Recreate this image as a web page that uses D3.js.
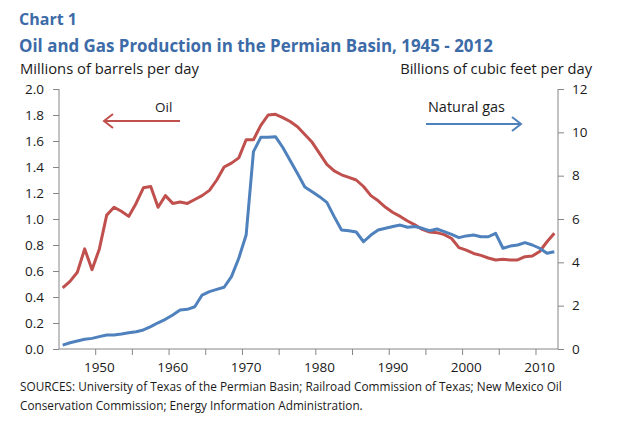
<!DOCTYPE html>
<html>
<head>
<meta charset="utf-8">
<script src="https://cdn.jsdelivr.net/npm/d3@7"></script>
<style>
  body { margin: 0; background: #fff; }
  svg { display: block; }
  text { font-family: "Open Sans", "Noto Sans", sans-serif; }
</style>
</head>
<body>
<svg id="chart" width="623" height="421"></svg>
<script>
// ---- data ----
const years = d3.range(1945, 2013);
const oil = [
  0.47, 0.52, 0.59, 0.77, 0.61, 0.77, 1.03, 1.09, 1.06, 1.02,
  1.12, 1.24, 1.25, 1.09, 1.18, 1.12, 1.13, 1.12, 1.15, 1.18,
  1.22, 1.30, 1.40, 1.43, 1.47, 1.61, 1.61, 1.72, 1.80, 1.805,
  1.78, 1.75, 1.71, 1.65, 1.59, 1.505, 1.42, 1.37, 1.34, 1.32,
  1.30, 1.25, 1.18, 1.14, 1.09, 1.05, 1.02, 0.985, 0.955, 0.92,
  0.90, 0.895, 0.88, 0.85, 0.78, 0.76, 0.735, 0.72, 0.70, 0.685,
  0.69, 0.685, 0.685, 0.71, 0.715, 0.75, 0.825, 0.89
];
const gas = [
  0.18, 0.29, 0.37, 0.45, 0.49, 0.57, 0.65, 0.65, 0.69, 0.75,
  0.80, 0.88, 1.03, 1.21, 1.37, 1.57, 1.80, 1.83, 1.95, 2.49,
  2.65, 2.75, 2.85, 3.34, 4.19, 5.26, 9.11, 9.77, 9.77, 9.80,
  9.30, 8.70, 8.10, 7.48, 7.26, 7.03, 6.77, 6.11, 5.49, 5.46,
  5.40, 4.95, 5.26, 5.49, 5.57, 5.65, 5.72, 5.62, 5.65, 5.57,
  5.46, 5.54, 5.42, 5.29, 5.14, 5.22, 5.26, 5.18, 5.18, 5.34,
  4.65, 4.75, 4.80, 4.91, 4.80, 4.65, 4.42, 4.49
];
const leftTicks = [0, 0.2, 0.4, 0.6, 0.8, 1.0, 1.2, 1.4, 1.6, 1.8, 2.0];
const rightTicks = [0, 2, 4, 6, 8, 10, 12];
const xLabelYears = [1950, 1960, 1970, 1980, 1990, 2000, 2010];

// ---- layout ----
const svg = d3.select("#chart");
const L = 59, R = 558, T = 89, B = 349;
const axisColor = "#868686";
const textColor = "#1a1a1a";
const red = "#C0504D", blue = "#4F81BD";
const titleBlue = "#3C6BA8";

const x = d3.scaleBand().domain(years).range([L, R]).padding(0);
const yL = d3.scaleLinear().domain([0, 2]).range([B, T]);
const yR = d3.scaleLinear().domain([0, 12]).range([B, T]);

function fitText(sel, width) {
  const node = sel.node();
  const len = node.getComputedTextLength();
  const fs = parseFloat(sel.attr("font-size"));
  sel.attr("font-size", (fs * width / len).toFixed(2));
  return sel;
}

// titles
fitText(svg.append("text").attr("x", 19).attr("y", 25).attr("font-size", 15)
  .attr("font-weight", "bold").attr("fill", titleBlue).text("Chart 1"), 58);
fitText(svg.append("text").attr("x", 19).attr("y", 52).attr("font-size", 15)
  .attr("font-weight", "bold").attr("fill", titleBlue)
  .text("Oil and Gas Production in the Permian Basin, 1945 - 2012"), 474);
fitText(svg.append("text").attr("x", 20).attr("y", 74).attr("font-size", 12.5)
  .attr("fill", textColor).text("Millions of barrels per day"), 179);
const rt = svg.append("text").attr("x", 592).attr("y", 74).attr("font-size", 12.5)
  .attr("text-anchor", "end").attr("fill", textColor).text("Billions of cubic feet per day");
fitText(rt, 192);

// axes
const gL = svg.append("g").attr("transform", `translate(${L},0)`)
  .call(d3.axisLeft(yL).tickValues(leftTicks).tickFormat(d3.format(".1f")).tickSize(6).tickPadding(9));
const gR = svg.append("g").attr("transform", `translate(${R},0)`)
  .call(d3.axisRight(yR).tickValues(rightTicks).tickFormat(d3.format("d")).tickSize(6).tickPadding(8));

// bottom axis: tick marks between categories every 5, labels at decade categories
const xTickYears = years.filter(yr => (yr - 1945) % 5 === 0 && yr !== 1945);
const gB = svg.append("g");
gB.append("line").attr("x1", L).attr("x2", R).attr("y1", B).attr("y2", B)
  .attr("stroke", axisColor);
gB.selectAll("line.tk").data(xTickYears).join("line").attr("class", "tk")
  .attr("x1", d => x(d)).attr("x2", d => x(d)).attr("y1", B).attr("y2", B + 6)
  .attr("stroke", axisColor);
gB.selectAll("text").data(xLabelYears).join("text")
  .attr("x", d => x(d) + x.bandwidth() / 2).attr("y", B + 23)
  .attr("text-anchor", "middle").attr("font-size", 13.5).attr("fill", textColor)
  .text(d => d);

[gL, gR].forEach(g => {
  g.selectAll("path.domain").attr("stroke", axisColor).attr("d", `M0,${B}V${T}`);
  g.selectAll(".tick line").attr("stroke", axisColor);
  g.selectAll(".tick text").attr("font-size", 13.5).attr("fill", textColor)
    .attr("font-family", '"Open Sans", sans-serif');
});

// lines
const lineOil = d3.line().x((d, i) => x(years[i]) + x.bandwidth() / 2).y(d => yL(d));
const lineGas = d3.line().x((d, i) => x(years[i]) + x.bandwidth() / 2).y(d => yR(d));
svg.append("path").datum(oil).attr("d", lineOil).attr("fill", "none")
  .attr("stroke", red).attr("stroke-width", 3).attr("stroke-linejoin", "round");
svg.append("path").datum(gas).attr("d", lineGas).attr("fill", "none")
  .attr("stroke", blue).attr("stroke-width", 3).attr("stroke-linejoin", "round");

// annotations
svg.append("text").attr("x", 155).attr("y", 112).attr("font-size", 13.5)
  .attr("fill", textColor).text("Oil");
svg.append("line").attr("x1", 104).attr("x2", 180).attr("y1", 121).attr("y2", 121)
  .attr("stroke", red).attr("stroke-width", 2);
svg.append("path").attr("d", "M113,114 L104,121 L113,128").attr("fill", "none")
  .attr("stroke", red).attr("stroke-width", 2);

const ng = svg.append("text").attr("x", 428).attr("y", 112).attr("font-size", 13.5)
  .attr("fill", textColor).text("Natural gas");
fitText(ng, 77);
svg.append("line").attr("x1", 426).attr("x2", 521).attr("y1", 124).attr("y2", 124)
  .attr("stroke", blue).attr("stroke-width", 2);
svg.append("path").attr("d", "M512,117 L521,124 L512,131").attr("fill", "none")
  .attr("stroke", blue).attr("stroke-width", 2);

// sources
fitText(svg.append("text").attr("x", 20).attr("y", 391).attr("font-size", 11)
  .attr("fill", textColor)
  .text("SOURCES: University of Texas of the Permian Basin; Railroad Commission of Texas; New Mexico Oil"), 542);
fitText(svg.append("text").attr("x", 20).attr("y", 410).attr("font-size", 11)
  .attr("fill", textColor)
  .text("Conservation Commission; Energy Information Administration."), 343);
</script>
</body>
</html>
